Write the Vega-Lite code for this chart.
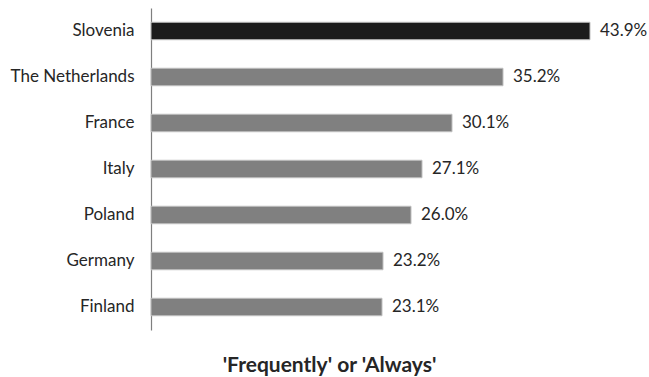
{
  "$schema": "https://vega.github.io/schema/vega-lite/v6.json",
  "width": 480,
  "height": 322,
  "autosize": {"type": "none"},
  "padding": {"left": 151, "top": 8, "right": 18, "bottom": 47},
  "background": "white",
  "config": {"view": {"stroke": null}, "font": "Lato"},
  "data": {"values": [
    {"country": "Slovenia", "value": 0.439, "highlight": "yes"},
    {"country": "The Netherlands", "value": 0.352, "highlight": "no"},
    {"country": "France", "value": 0.301, "highlight": "no"},
    {"country": "Italy", "value": 0.271, "highlight": "no"},
    {"country": "Poland", "value": 0.260, "highlight": "no"},
    {"country": "Germany", "value": 0.232, "highlight": "no"},
    {"country": "Finland", "value": 0.231, "highlight": "no"}
  ]},
  "encoding": {
    "y": {"field": "country", "type": "nominal", "sort": null,
      "scale": {"paddingInner": 0.62, "paddingOuter": 0.31},
      "axis": {"title": null, "ticks": false, "domainColor": "#7f7f7f", "domainWidth": 1.2,
        "labelFontSize": 17, "labelColor": "#262626", "labelPadding": 17, "labelFont": "Lato"}},
    "x": {"field": "value", "type": "quantitative", "scale": {"domain": [0, 0.48]},
      "axis": {"title": "'Frequently' or 'Always'", "labels": false, "ticks": false, "grid": false, "domain": false,
        "titleFontSize": 21, "titleFontWeight": "bold", "titleColor": "#262626", "titleFont": "Lato",
        "titleX": 178, "titleY": 41, "titleAlign": "center", "titleBaseline": "alphabetic"}}
  },
  "layer": [
    {"mark": {"type": "bar", "stroke": "#bfbfbf", "strokeWidth": 1},
      "encoding": {"color": {"field": "highlight", "type": "nominal",
        "scale": {"domain": ["yes", "no"], "range": ["#1c1c1c", "#808080"]}, "legend": null}}},
    {"mark": {"type": "text", "align": "left", "dx": 10, "fontSize": 17, "color": "#262626", "font": "Lato"},
      "encoding": {"text": {"field": "value", "type": "quantitative", "format": ".1%"}}}
  ]
}
